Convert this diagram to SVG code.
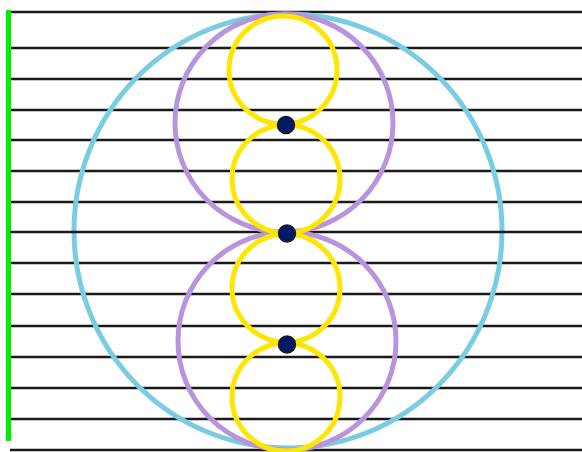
<svg xmlns="http://www.w3.org/2000/svg" width="582" height="452" viewBox="0 0 582 452">
<style>
.h{stroke:#1a1a1a;stroke-width:2.5}
.c{fill:none;stroke-width:5}
.b{stroke:#78cde2}
.p{stroke:#b894dc}
.y{stroke:#ffe600}
.d{fill:#001a66;stroke:#1a1a1a;stroke-width:1.5}
</style>
<rect width="582" height="452" fill="#fff"/>
<g id="connectors">
<line class="h" x1="10" y1="12" x2="582" y2="12"/>
<line class="h" x1="10" y1="48" x2="582" y2="48"/>
<line class="h" x1="10" y1="79" x2="582" y2="79"/>
<line class="h" x1="10" y1="110" x2="582" y2="110"/>
<line class="h" x1="10" y1="140" x2="582" y2="140"/>
<line class="h" x1="10" y1="171" x2="582" y2="171"/>
<line class="h" x1="10" y1="202" x2="582" y2="202"/>
<line class="h" x1="10" y1="263" x2="582" y2="263"/>
<line class="h" x1="10" y1="294" x2="582" y2="294"/>
<line class="h" x1="10" y1="326" x2="582" y2="326"/>
<line class="h" x1="10" y1="357" x2="582" y2="357"/>
<line class="h" x1="10" y1="388" x2="582" y2="388"/>
<line class="h" x1="10" y1="419" x2="582" y2="419"/>
<line class="h" x1="10" y1="450" x2="582" y2="450"/>
<line x1="8.5" y1="10" x2="8.5" y2="441" stroke="#00ee00" stroke-width="5"/>
</g>
<g id="outer"><ellipse class="c b" cx="288" cy="231" rx="214" ry="217"/></g>
<line class="h" x1="10" y1="232" x2="582" y2="232" stroke-width="3.5"/>
<g id="purple-top"><circle class="c p" cx="284" cy="123" r="109"/></g>
<g id="purple-bottom"><circle class="c p" cx="287" cy="341" r="109"/></g>
<g id="yellow-1"><circle class="c y" cx="283" cy="70" r="54"/></g>
<g id="yellow-2"><circle class="c y" cx="286" cy="179" r="54"/></g>
<g id="yellow-3"><circle class="c y" cx="286" cy="288" r="54"/></g>
<g id="yellow-4"><circle class="c y" cx="286" cy="397" r="54"/></g>
<g id="dot-1"><circle class="d" cx="286" cy="125" r="8.5"/></g>
<g id="dot-2"><circle class="d" cx="287" cy="233.5" r="8.5"/></g>
<g id="dot-3"><circle class="d" cx="287" cy="344.5" r="8.5"/></g>
</svg>
